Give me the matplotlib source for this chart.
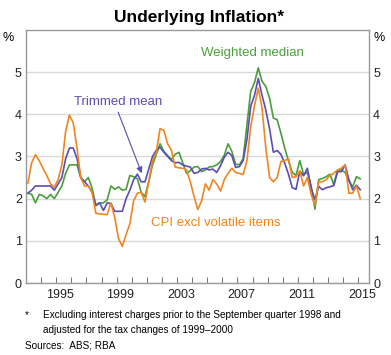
import numpy as np
import matplotlib
matplotlib.use("Agg")
import matplotlib.pyplot as plt

plt.rcParams['font.family'] = ['Liberation Sans', 'DejaVu Sans']

# quarterly data, 1993:Q1 to 2015:Q1 (year-ended %)
start_year = 1993
n_quarters = 89

cpi_excl = [2.37, 2.85, 3.04, 2.9, 2.72, 2.55, 2.35, 2.27, 2.45, 2.8,
            3.6, 3.98, 3.8, 3.2, 2.5, 2.3, 2.3, 2.15, 1.65, 1.64,
            1.63, 1.62, 1.9, 1.55, 1.05, 0.87, 1.15, 1.4, 1.95, 2.13,
            2.15, 1.92, 2.4, 2.9, 3.1, 3.66, 3.62, 3.3, 3.15, 2.75,
            2.73, 2.72, 2.68, 2.4, 2.05, 1.74, 1.95, 2.35, 2.2, 2.45,
            2.35, 2.18, 2.45, 2.6, 2.72, 2.62, 2.6, 2.57, 2.9, 3.7,
            4.2, 4.62, 4.15, 3.2, 2.5, 2.4, 2.5, 2.88, 2.9, 2.95,
            2.5, 2.52, 2.66, 2.3, 2.5, 2.1, 1.85, 2.4, 2.4, 2.45,
            2.55, 2.6, 2.68, 2.72, 2.8, 2.13, 2.13, 2.3, 2.0]

trimmed_mean = [2.13, 2.2, 2.3, 2.3, 2.3, 2.3, 2.3, 2.2, 2.35, 2.5,
                2.95, 3.2, 3.2, 2.95, 2.5, 2.4, 2.3, 2.15, 1.85, 1.9,
                1.72, 1.9, 1.88, 1.7, 1.7, 1.7, 2.0, 2.2, 2.45, 2.58,
                2.4, 2.4, 2.7, 3.0, 3.15, 3.22, 3.1, 3.0, 2.9, 2.85,
                2.86, 2.8, 2.77, 2.75, 2.6, 2.62, 2.7, 2.72, 2.68, 2.7,
                2.62, 2.78, 2.98, 3.1, 3.02, 2.74, 2.76, 2.9, 3.4, 4.19,
                4.45, 4.85, 4.45, 4.1, 3.65, 3.1, 3.14, 3.05, 2.84, 2.58,
                2.26, 2.22, 2.65, 2.54, 2.72, 2.25, 1.98, 2.29, 2.21, 2.26,
                2.28, 2.31, 2.64, 2.64, 2.8, 2.45, 2.21, 2.32, 2.21]

weighted_median = [2.13, 2.1, 1.9, 2.1, 2.07, 2.0, 2.1, 2.0, 2.15, 2.3,
                   2.6, 2.8, 2.8, 2.8, 2.5, 2.4, 2.5, 2.25, 1.83, 1.9,
                   1.9, 1.97, 2.3, 2.22, 2.28, 2.2, 2.22, 2.55, 2.52, 2.47,
                   2.15, 2.05, 2.4, 2.8, 3.05, 3.3, 3.12, 3.02, 2.93, 3.05,
                   3.1, 2.85, 2.6, 2.66, 2.75, 2.76, 2.64, 2.68, 2.75, 2.76,
                   2.8, 2.88, 3.03, 3.3, 3.12, 2.82, 2.8, 2.95, 3.75, 4.54,
                   4.75, 5.1, 4.78, 4.66, 4.38, 3.91, 3.87, 3.55, 3.2, 2.9,
                   2.62, 2.55, 2.9, 2.57, 2.62, 2.3, 1.75, 2.45, 2.48, 2.52,
                   2.58, 2.33, 2.68, 2.68, 2.62, 2.42, 2.28, 2.52, 2.47]

year_labels = [1995, 1999, 2003, 2007, 2011, 2015]
y_ticks = [0, 1, 2, 3, 4, 5]

green = '#4a9e3a'
purple = '#5a4db5'
orange = '#f08522'

# mid-quarter positions
quarters = np.arange(n_quarters)
t = start_year + quarters // 4 + (quarters % 4) / 4 + 0.125

fig = plt.figure(figsize=(3.91, 3.55), dpi=100)
ax = fig.add_axes([0.0665, 0.2028, 0.877, 0.713])

ax.plot(t, weighted_median, color=green, lw=1.2)
ax.plot(t, trimmed_mean, color=purple, lw=1.2)
ax.plot(t, cpi_excl, color=orange, lw=1.2)

ax.set_xlim(1993.0, 2015.7)
ax.set_ylim(0, 6)

# y axis: gridlines, labels both sides
ax.set_yticks(y_ticks)
ax.set_yticklabels([str(v) for v in y_ticks])
ax.yaxis.grid(True, color='#d9d9d9', lw=1.0)
ax.tick_params(axis='y', length=0, labelsize=9, labelleft=True, labelright=True,
               pad=3, colors='#222222')

# x axis: yearly ticks inside, labels offset into the year
ax.set_xticks(np.arange(1994, 2016), minor=True)
ax.set_xticks([y + 0.25 for y in year_labels])
ax.set_xticklabels([str(y) for y in year_labels])
ax.tick_params(axis='x', which='major', length=0, labelsize=9, pad=4, colors='#222222')
ax.tick_params(axis='x', which='minor', direction='in', length=4, color='#777777', width=0.8)
ax.set_axisbelow(True)

for s in ax.spines.values():
    s.set_color('#999999')
    s.set_linewidth(1.0)

# % units at top of both axes
ax.text(-0.035, 0.99, '%', transform=ax.transAxes, ha='right', va='top', fontsize=9)
ax.text(1.012, 0.99, '%', transform=ax.transAxes, ha='left', va='top', fontsize=9)

# series labels
ax.text(2008.0, 5.45, 'Weighted median', color=green, fontsize=9.5, ha='center', va='center')
ax.text(1999.1, 4.29, 'Trimmed mean', color=purple, fontsize=9.5, ha='center', va='center')
ax.text(2005.55, 1.42, 'CPI excl volatile items', color=orange, fontsize=9.5, ha='center', va='center')
ax.annotate('', xy=(2000.66, 2.6), xytext=(1999.1, 4.05),
            arrowprops=dict(arrowstyle='-|>', color=purple, lw=0.8,
                            mutation_scale=9, shrinkA=0, shrinkB=0))

fig.text(0.508, 0.952, 'Underlying Inflation*', ha='center', va='center',
         fontsize=12.5, fontweight='bold')

fig.text(25 / 391, 1 - 315 / 355, '*', fontsize=7.2, va='center')
fig.text(43 / 391, 1 - 315 / 355,
         'Excluding interest charges prior to the September quarter 1998 and',
         fontsize=7.2, va='center')
fig.text(43 / 391, 1 - 330 / 355, 'adjusted for the tax changes of 1999\u20132000',
         fontsize=7.2, va='center')
fig.text(25 / 391, 1 - 346 / 355, 'Sources:  ABS; RBA', fontsize=7.2, va='center')

fig.savefig('out.png', dpi=100)
